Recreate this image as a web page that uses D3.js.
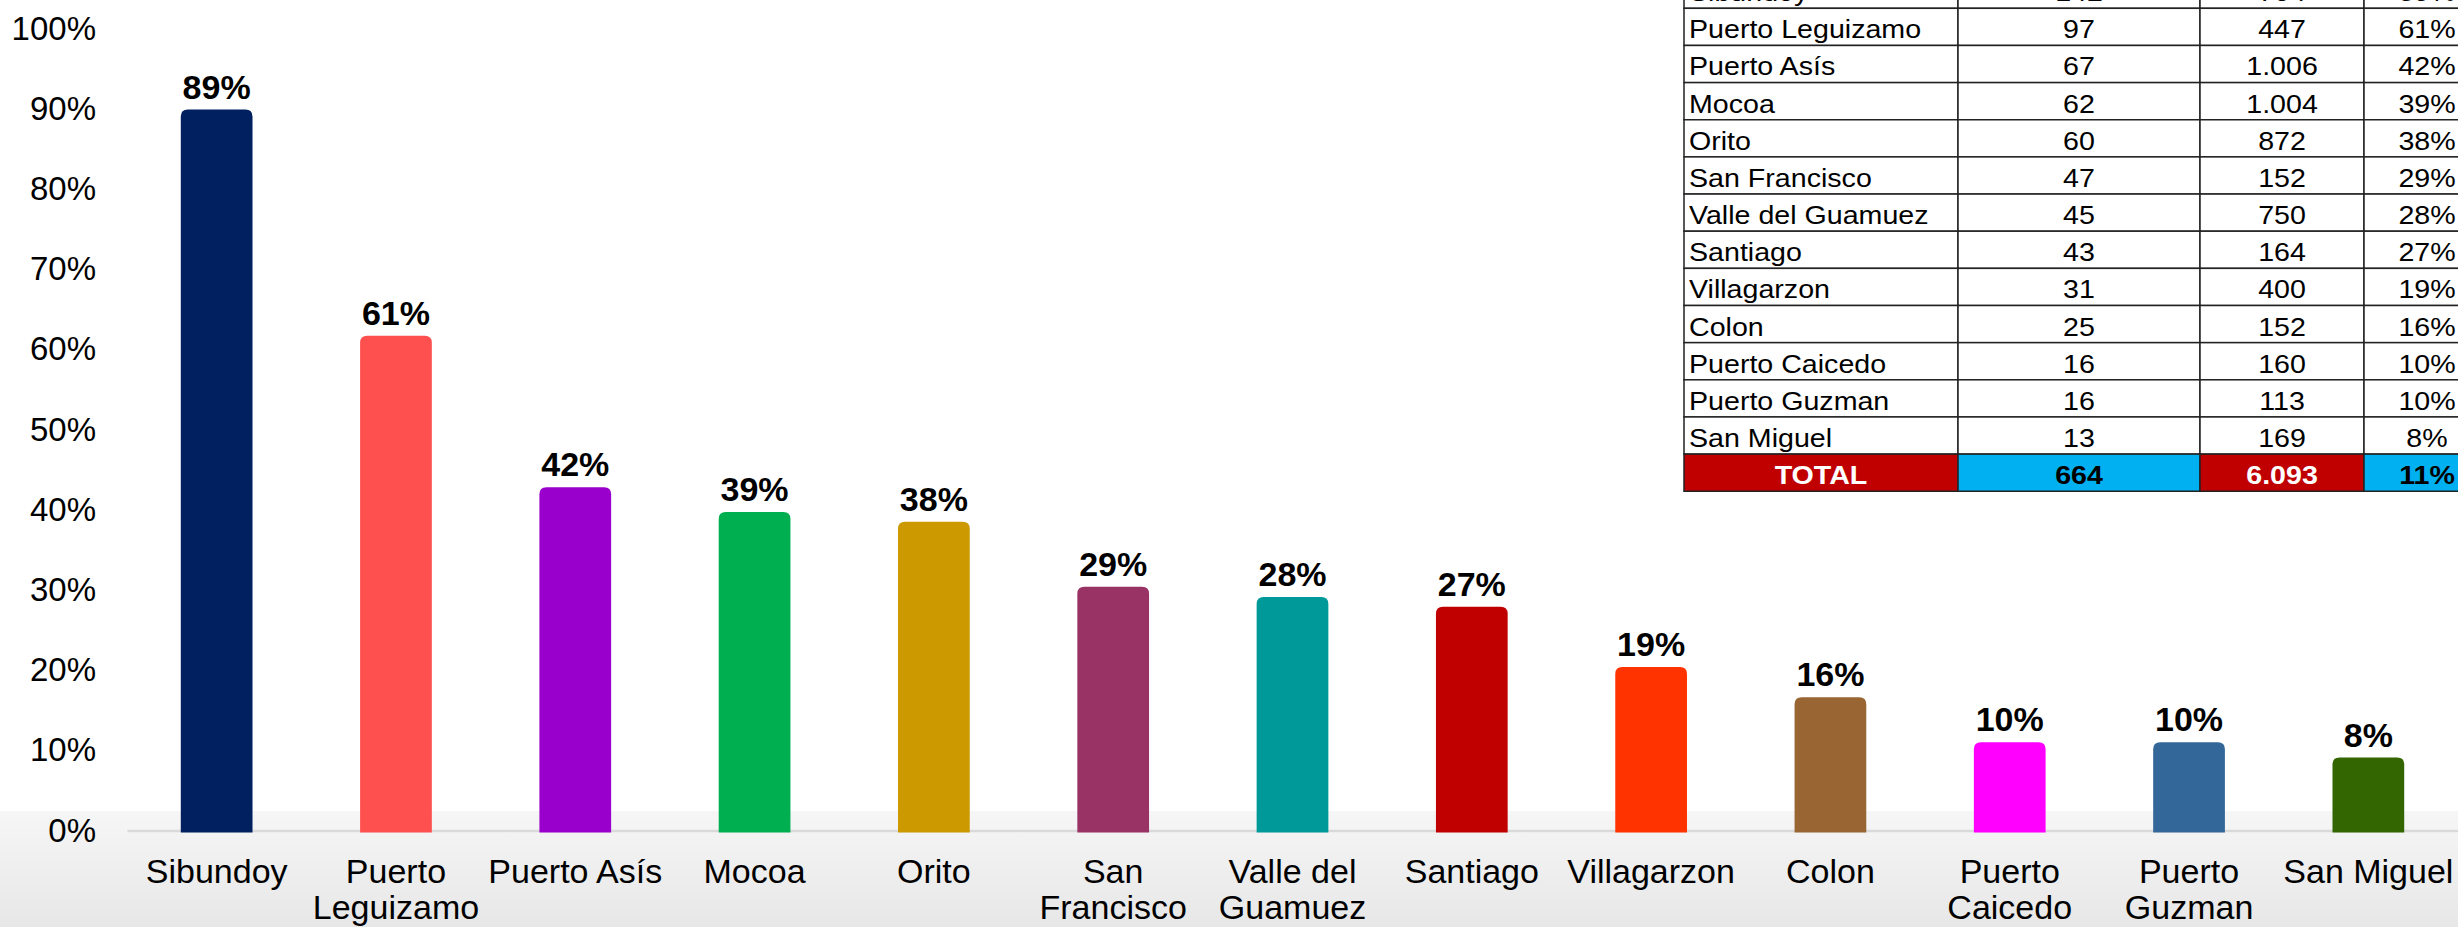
<!DOCTYPE html>
<html>
<head>
<meta charset="utf-8">
<script src="https://cdn.jsdelivr.net/npm/d3@7"></script>
<style>
  body { margin: 0; background: #fff; overflow: hidden; }
  svg { display: block; font-family: "Liberation Sans", Arial, sans-serif; }
</style>
</head>
<body>
<div class="chart"></div>
<script>
const categories = ['Sibundoy', 'Puerto Leguizamo', 'Puerto Asís', 'Mocoa', 'Orito', 'San Francisco',
  'Valle del Guamuez', 'Santiago', 'Villagarzon', 'Colon', 'Puerto Caicedo', 'Puerto Guzman', 'San Miguel'];
// bar heights
const rates = [0.899, 0.617, 0.428, 0.397, 0.385, 0.304, 0.291, 0.279, 0.204, 0.166, 0.110, 0.110, 0.091];
const barColors = ['#002060', '#ff5050', '#9900cc', '#00b050', '#cc9900', '#993366',
  '#009999', '#c00000', '#ff3300', '#996633', '#ff00ff', '#336699', '#336600'];

// table columns
const casos = ['142', '97', '67', '62', '60', '47', '45', '43', '31', '25', '16', '16', '13'];
const totales = ['704', '447', '1.006', '1.004', '872', '152', '750', '164', '400', '152', '160', '113', '169'];
const pctLabels = ['89%', '61%', '42%', '39%', '38%', '29%', '28%', '27%', '19%', '16%', '10%', '10%', '8%'];
const totalRow = ['TOTAL', '664', '6.093', '11%'];

const yTicks = [0, 0.1, 0.2, 0.3, 0.4, 0.5, 0.6, 0.7, 0.8, 0.9, 1];

let w = 2458,
    h = 927;

const svg = d3.select('.chart')
              .append('svg')
              .attr('width', w)
              .attr('height', h);

// grey band at the bottom
const grad = svg.append('defs')
                .append('linearGradient')
                .attr('id', 'floor')
                .attr('x1', 0).attr('y1', 0).attr('x2', 0).attr('y2', 1);
grad.append('stop').attr('offset', '0%').attr('stop-color', '#f6f6f6');
grad.append('stop').attr('offset', '100%').attr('stop-color', '#e7e7e7');

svg.append('rect')
   .attr('x', 0).attr('y', 811)
   .attr('width', w).attr('height', h - 811)
   .attr('fill', 'url(#floor)');

const xScale = d3.scaleBand()
                 .domain(categories)
                 .range([127, 2458])
                 .paddingInner(0.6)
                 .paddingOuter(0.3);

const yScale = d3.scaleLinear()
                 .domain([0, 1])
                 .range([830.5, 28.5]);

// y axis: labels only
const yAxis = d3.axisLeft(yScale)
                .tickValues(yTicks)
                .tickFormat(d3.format('.0%'))
                .tickSize(0)
                .tickPadding(0);

const gy = svg.append('g')
              .attr('transform', 'translate(96,0)')
              .call(yAxis);
gy.select('.domain').remove();
gy.selectAll('text')
  .style('font-size', '33px')
  .attr('fill', '#000')
  .style('font-family', '"Liberation Sans", Arial, sans-serif');

// x axis with wrapped labels
const xAxis = d3.axisBottom(xScale)
                .tickSize(0)
                .tickPadding(28);

const gx = svg.append('g')
              .attr('transform', `translate(0,${yScale(0)})`)
              .call(xAxis);
gx.select('.domain')
  .attr('stroke', '#d9d9d9')
  .attr('stroke-width', 2.5);
gx.selectAll('text')
  .style('font-size', '34px')
  .attr('fill', '#000')
  .style('font-family', '"Liberation Sans", Arial, sans-serif')
  .each(function(d) {
      const text = d3.select(this);
      const words = d.split(' ');
      const maxW = xScale.step();
      text.text(null);
      let lines = [];
      let line = [];
      const probe = text.append('tspan');
      words.forEach((word) => {
          const trial = line.concat(word).join(' ');
          probe.text(trial);
          if (line.length && probe.node().getComputedTextLength() > maxW) {
              lines.push(line.join(' '));
              line = [word];
          } else {
              line.push(word);
          }
      });
      lines.push(line.join(' '));
      probe.remove();
      const y0 = +text.attr('y');
      lines.forEach((l, i) => {
          text.append('tspan')
              .attr('x', 0)
              .attr('y', y0)
              .attr('dy', (0.71 + i * 1.08) + 'em')
              .text(l);
      });
      text.attr('dy', null);
  });

// bars with rounded top corners
const topRounded = (x, y, bw, bh, r) =>
  `M${x},${y + bh}V${y + r}Q${x},${y} ${x + r},${y}H${x + bw - r}Q${x + bw},${y} ${x + bw},${y + r}V${y + bh}Z`;

const base = yScale(0) + 2;

svg.append('g')
   .selectAll('path')
   .data(rates)
   .enter()
   .append('path')
   .attr('d', (d, i) => topRounded(xScale(categories[i]), yScale(d), xScale.bandwidth(), base - yScale(d), 7))
   .attr('fill', (d, i) => barColors[i]);

svg.append('g')
   .selectAll('text')
   .data(rates)
   .enter()
   .append('text')
   .attr('x', (d, i) => xScale(categories[i]) + xScale.bandwidth() / 2)
   .attr('y', (d) => yScale(d) - 11)
   .attr('text-anchor', 'middle')
   .style('font-size', '34px')
   .style('font-weight', 'bold')
   .text((d, i) => pctLabels[i]);

// table (top right, partly outside the picture)
const colEdges = [1684, 1958, 2200, 2364, 2490];
const rowH = 37.15;
const rowTop = (i) => 8.3 + (i - 1) * rowH;

const table = svg.append('g');
const rows = categories.map((c, i) => [c, casos[i], totales[i], pctLabels[i]]);
rows.push(totalRow);

const totalFill = ['#c00000', '#00b0f0', '#c00000', '#00b0f0'];
const totalInk = ['#fff', '#000', '#fff', '#000'];

rows.forEach((row, i) => {
    const isTotal = i === rows.length - 1;
    row.forEach((cell, j) => {
        const x0 = colEdges[j], x1 = colEdges[j + 1];
        table.append('rect')
             .attr('x', x0).attr('y', rowTop(i))
             .attr('width', x1 - x0).attr('height', rowH)
             .attr('fill', isTotal ? totalFill[j] : '#fff')
             .attr('stroke', '#222')
             .attr('stroke-width', 1.5);
        const left = (j === 0 && !isTotal);
        const tx = left ? x0 + 5 : (x0 + x1) / 2;
        table.append('text')
             .attr('transform', `translate(${tx},${rowTop(i) + 30}) scale(1.1,1)`)
             .attr('text-anchor', left ? 'start' : 'middle')
             .style('font-size', '26px')
             .style('font-weight', isTotal ? 'bold' : 'normal')
             .attr('fill', isTotal ? totalInk[j] : '#000')
             .text(cell);
    });
});
</script>
</body>
</html>
